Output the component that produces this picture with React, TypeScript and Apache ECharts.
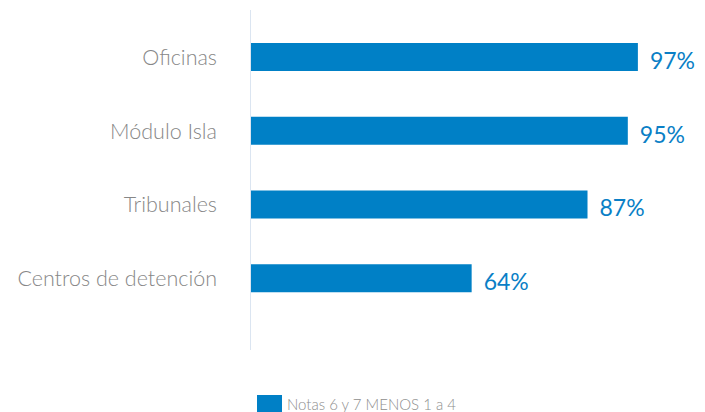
import React, { useEffect, useRef } from "react";
import * as echarts from "echarts";

const categories = ["Oficinas", "Módulo Isla", "Tribunales", "Centros de detención"];
const values = [97, 95, 87, 64];
const seriesName = "Notas 6 y 7 MENOS 1 a 4";

export default function App() {
  const ref = useRef<HTMLDivElement>(null);
  useEffect(() => {
    if (!ref.current) return;
    const chart = echarts.init(ref.current, null, { renderer: "svg" });
    chart.setOption({
      animation: false,
      backgroundColor: "#ffffff",
      textStyle: { fontFamily: "Lato" },
      grid: { left: 250, right: 52, top: 20, bottom: 97, containLabel: false },
      legend: {
        left: 252,
        top: 390,
        itemWidth: 25,
        itemHeight: 18,
        itemGap: 8,
        icon: "rect",
        textStyle: { color: "#8e8e8e", fontSize: 15, fontFamily: "Lato", fontWeight: 300 },
        data: [seriesName],
      },
      xAxis: {
        type: "value",
        min: 20,
        max: 100,
        show: false,
      },
      yAxis: {
        type: "category",
        data: categories,
        inverse: true,
        axisLine: { show: false },
        axisTick: { show: false },
        axisLabel: {
          color: "#878787",
          fontSize: 21.5,
          margin: 33,
          fontFamily: "Lato",
          fontWeight: 300,
        },
      },
      graphic: [
        {
          type: "line",
          shape: { x1: 250.5, y1: 10, x2: 250.5, y2: 350 },
          style: { stroke: "#dbe5f1", lineWidth: 1 },
          z: 10,
        },
      ],
      series: [
        {
          name: seriesName,
          type: "bar",
          data: values,
          barWidth: 28,
          itemStyle: { color: "#0080c6" },
          label: {
            show: true,
            position: "right",
            distance: 12,
            offset: [0, 3],
            formatter: "{c}%",
            color: "#0a7fc6",
            fontSize: 23,
            fontFamily: "Lato",
            fontWeight: 400,
          },
        },
      ],
    });
    return () => chart.dispose();
  }, []);
  return (
    <div
      ref={ref}
      style={{ position: "fixed", left: 0, top: 0, width: 705, height: 412 }}
    />
  );
}
